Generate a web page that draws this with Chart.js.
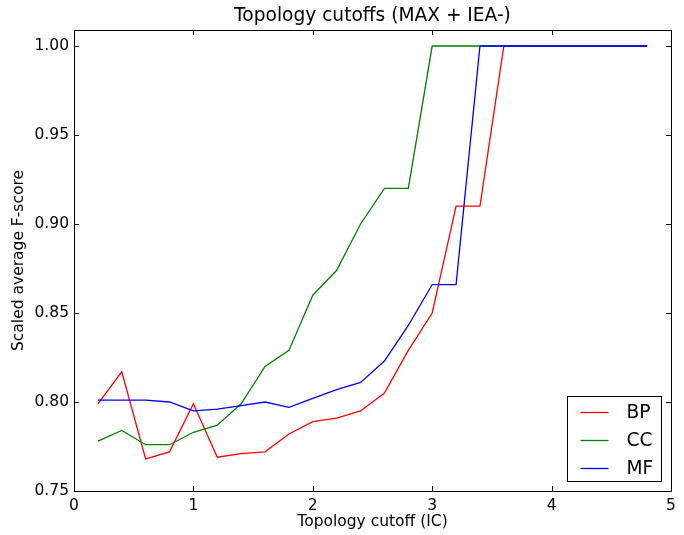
<!DOCTYPE html>
<html>
<head>
<meta charset="utf-8">
<script src="https://cdn.jsdelivr.net/npm/chart.js@4/dist/chart.umd.min.js"></script>
<style>
  html, body { margin: 0; padding: 0; background: #fff; }
  #wrap { width: 684px; height: 535px; }
</style>
</head>
<body>
<div id="wrap"><canvas id="cutoffChart" width="684" height="535"></canvas></div>
<script>
const FONT = '"DejaVu Sans", sans-serif';

const chartTitle = 'Topology cutoffs (MAX + IEA-)';
const xTitle = 'Topology cutoff (IC)';
const yTitle = 'Scaled average F-score';

// topology cutoff values (IC)
const cutoffs = [0.2, 0.4, 0.6, 0.8, 1.0, 1.2, 1.4, 1.6, 1.8, 2.0, 2.2, 2.4,
                 2.6, 2.8, 3.0, 3.2, 3.4, 3.6, 3.8, 4.0, 4.2, 4.4, 4.6, 4.8];

const bpScores = [0.799, 0.817, 0.768, 0.772, 0.799, 0.769, 0.771, 0.772, 0.782, 0.789, 0.791, 0.795,
                  0.805, 0.829, 0.850, 0.910, 0.910, 1.000, 1.000, 1.000, 1.000, 1.000, 1.000, 1.000];
const ccScores = [0.778, 0.784, 0.776, 0.776, 0.783, 0.787, 0.799, 0.820, 0.829, 0.860, 0.874, 0.900,
                  0.920, 0.920, 1.000, 1.000, 1.000, 1.000, 1.000, 1.000, 1.000, 1.000, 1.000, 1.000];
const mfScores = [0.801, 0.801, 0.801, 0.800, 0.795, 0.796, 0.798, 0.800, 0.797, 0.802, 0.807, 0.811,
                  0.823, 0.843, 0.866, 0.866, 1.000, 1.000, 1.000, 1.000, 1.000, 1.000, 1.000, 1.000];

const seriesNames = ['BP', 'CC', 'MF'];
const seriesColors = ['#ff0000', '#008000', '#0000ff'];

const toPoints = (ys) => ys.map((y, i) => ({ x: cutoffs[i], y }));

/**
 * matplotlibFrame:
 *  - full box round the plot area with inward ticks on all four sides
 *  - title centred over the plot area
 *  - boxed legend in the lower right corner
 */
const matplotlibFrame = {
  id: 'matplotlibFrame',
  afterDraw(ci) {
    const { ctx, chartArea: ca, scales: { x, y } } = ci;
    const tick = 5;
    ctx.save();

    // frame
    ctx.strokeStyle = '#000';
    ctx.lineWidth = 1;
    ctx.strokeRect(Math.round(ca.left) + 0.5, Math.round(ca.top) + 0.5,
                   Math.round(ca.right - ca.left), Math.round(ca.bottom - ca.top));

    // inward ticks
    ctx.beginPath();
    x.ticks.forEach(t => {
      const px = Math.round(x.getPixelForValue(t.value)) + 0.5;
      ctx.moveTo(px, ca.bottom); ctx.lineTo(px, ca.bottom - tick);
      ctx.moveTo(px, ca.top);    ctx.lineTo(px, ca.top + tick);
    });
    y.ticks.forEach(t => {
      const py = Math.round(y.getPixelForValue(t.value)) + 0.5;
      ctx.moveTo(ca.left, py);  ctx.lineTo(ca.left + tick, py);
      ctx.moveTo(ca.right, py); ctx.lineTo(ca.right - tick, py);
    });
    ctx.stroke();

    // title
    ctx.fillStyle = '#000';
    ctx.font = `18.6px ${FONT}`;
    ctx.textAlign = 'center';
    ctx.textBaseline = 'alphabetic';
    ctx.fillText(chartTitle, (ca.left + ca.right) / 2, 21);

    // legend
    const boxW = 94, boxH = 85, rowH = 28;
    const bx = Math.round(ca.right - 10 - boxW) + 0.5;
    const by = Math.round(ca.bottom - 10 - boxH) + 0.5;
    ctx.fillStyle = '#fff';
    ctx.fillRect(bx, by, boxW, boxH);
    ctx.strokeStyle = '#000';
    ctx.strokeRect(bx, by, boxW, boxH);

    ctx.font = `18.6px ${FONT}`;
    ctx.textAlign = 'left';
    ctx.textBaseline = 'middle';
    ci.data.datasets.forEach((ds, i) => {
      const ry = by + 16 + i * rowH;
      ctx.strokeStyle = ds.borderColor;
      ctx.lineWidth = 1.3;
      ctx.beginPath();
      ctx.moveTo(bx + 13, ry);
      ctx.lineTo(bx + 41, ry);
      ctx.stroke();
      ctx.fillStyle = '#000';
      ctx.fillText(ds.label, bx + 59, ry + 1);
    });

    ctx.restore();
  }
};

const tickFont = { family: FONT, size: 15.5 };

new Chart(document.getElementById('cutoffChart').getContext('2d'), {
  type: 'line',
  data: {
    datasets: [bpScores, ccScores, mfScores].map((ys, i) => ({
      label: seriesNames[i],
      data: toPoints(ys),
      parsing: false,
      borderColor: seriesColors[i],
      borderWidth: 1.3,
      pointRadius: 0,
      tension: 0,
      fill: false,
      order: 3 - i // MF on top, as plotted last
    }))
  },
  options: {
    responsive: false,
    animation: false,
    layout: { padding: { top: 30, right: 13, left: 0, bottom: 0 } },
    scales: {
      x: {
        type: 'linear',
        min: 0,
        max: 5,
        grid: { display: false, drawTicks: false },
        border: { display: false },
        ticks: { stepSize: 1, color: '#000', font: tickFont, padding: 6, maxRotation: 0 },
        title: { display: true, text: xTitle, color: '#000', font: tickFont, padding: { top: 0, bottom: 4 } },
        afterFit: (s) => { s.height = 44; }
      },
      y: {
        type: 'linear',
        min: 0.75,
        max: 1.009,
        grid: { display: false, drawTicks: false },
        border: { display: false },
        ticks: {
          stepSize: 0.05,
          includeBounds: false,
          color: '#000',
          font: tickFont,
          padding: 5,
          callback: (v) => v.toFixed(2)
        },
        title: { display: true, text: yTitle, color: '#000', font: tickFont, padding: { top: 10, bottom: 0 } },
        afterFit: (s) => { s.width = 74; }
      }
    },
    plugins: {
      legend: { display: false },
      tooltip: { enabled: false },
      title: { display: false }
    }
  },
  plugins: [matplotlibFrame]
});
</script>
</body>
</html>
